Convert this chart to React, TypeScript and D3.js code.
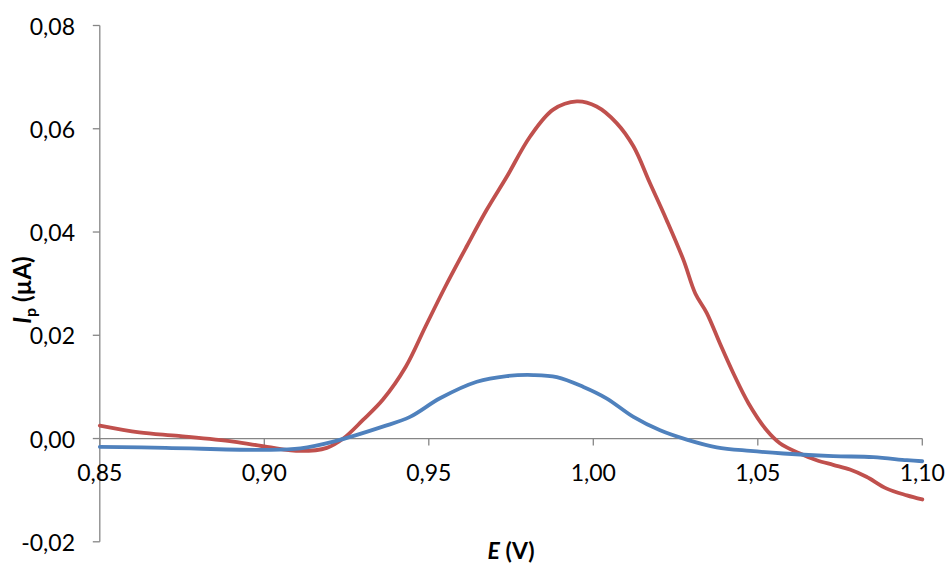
import React from "react";
import * as d3 from "d3";

// Differential pulse voltammograms: potential E (V) vs. peak current Ip (µA)
const redPotential = [0.85, 0.862, 0.874, 0.8906, 0.9008, 0.911, 0.919, 0.924, 0.93, 0.936, 0.943, 0.949, 0.955, 0.9615, 0.9676, 0.9737, 0.9808, 0.9878, 0.995, 1.001, 1.0071, 1.0122, 1.0172, 1.0223, 1.0274, 1.031, 1.0345, 1.0385, 1.0426, 1.0472, 1.0527, 1.0567, 1.0628, 1.0679, 1.0729, 1.078, 1.083, 1.0892, 1.0953, 1.1];
const redCurrent = [0.0025, 0.0012, 0.0005, -0.0006, -0.0016, -0.0024, -0.0018, 0.0, 0.0036, 0.0075, 0.0139, 0.0217, 0.0294, 0.0372, 0.0443, 0.0507, 0.0585, 0.0637, 0.0653, 0.0643, 0.0611, 0.0566, 0.0495, 0.0423, 0.0346, 0.0281, 0.0243, 0.0184, 0.0126, 0.0068, 0.0016, -0.0009, -0.0029, -0.0042, -0.0051, -0.006, -0.0074, -0.0097, -0.011, -0.0118];

const bluePotential = [0.85, 0.87, 0.901, 0.911, 0.921, 0.936, 0.9443, 0.9534, 0.9646, 0.9737, 0.9818, 0.9889, 0.997, 1.004, 1.0122, 1.0203, 1.0284, 1.0375, 1.0477, 1.0578, 1.0729, 1.0851, 1.0953, 1.1];
const blueCurrent = [-0.0016, -0.0018, -0.0022, -0.0019, -0.0006, 0.0023, 0.0042, 0.0078, 0.011, 0.0121, 0.0123, 0.0119, 0.01, 0.0078, 0.0042, 0.0016, -0.0002, -0.0017, -0.0024, -0.0029, -0.0034, -0.0036, -0.0042, -0.0044];

const xTicks = [0.85, 0.9, 0.95, 1.0, 1.05, 1.1];
const yTicks = [-0.02, 0, 0.02, 0.04, 0.06, 0.08];

const series = [
  { name: "red", color: "#C0504D", x: redPotential, y: redCurrent },
  { name: "blue", color: "#4F81BD", x: bluePotential, y: blueCurrent },
];

const W = 948;
const H = 564;
const FONT = "Lato, 'Open Sans', 'Liberation Sans', sans-serif";
const AXIS = "#868686";

const fmt = (v: number) => v.toFixed(2).replace(".", ",");

export default function App() {
  const x = d3.scaleLinear().domain([0.85, 1.1]).range([99.8, 922.3]);
  const y = d3.scaleLinear().domain([-0.02, 0.08]).range([541.8, 25.5]);

  const line = d3
    .line<[number, number]>()
    .x((d) => x(d[0]))
    .y((d) => y(d[1]))
    .curve(d3.curveCatmullRom.alpha(0.5));

  const y0 = y(0);

  return (
    <div style={{ position: "fixed", left: 0, top: 0 }}>
      <svg width={W} height={H} style={{ display: "block", background: "#fff" }}>
        {/* vertical axis */}
        <line x1={x(0.85)} x2={x(0.85)} y1={y(0.08)} y2={y(-0.02)} stroke={AXIS} strokeWidth={1.3} />
        {yTicks.map((t) => (
          <g key={"y" + t}>
            <line x1={x(0.85) - 7} x2={x(0.85)} y1={y(t)} y2={y(t)} stroke={AXIS} strokeWidth={1.3} />
            <text
              x={75}
              y={y(t)}
              textAnchor="end"
              dominantBaseline="central"
              fontFamily={FONT}
              fontSize={23}
              fill="#000"
            >
              {fmt(t)}
            </text>
          </g>
        ))}

        {/* horizontal axis at zero */}
        <line x1={x(0.85)} x2={x(1.1)} y1={y0} y2={y0} stroke={AXIS} strokeWidth={1.3} />
        {xTicks.map((t) => (
          <g key={"x" + t}>
            <line x1={x(t)} x2={x(t)} y1={y0} y2={y0 + 7} stroke={AXIS} strokeWidth={1.3} />
            <text
              x={x(t)}
              y={481}
              textAnchor="middle"
              fontFamily={FONT}
              fontSize={23}
              fill="#000"
            >
              {fmt(t)}
            </text>
          </g>
        ))}

        {/* data */}
        {series.map((s) => (
          <path
            key={s.name}
            d={line(s.x.map((v, i) => [v, s.y[i]] as [number, number])) || ""}
            fill="none"
            stroke={s.color}
            strokeWidth={3.8}
            strokeLinejoin="round"
            strokeLinecap="round"
          />
        ))}

        {/* axis titles */}
        <text x={511} y={559} textAnchor="middle" fontFamily={FONT} fontSize={23} fontWeight="bold" fill="#000">
          <tspan fontStyle="italic">E</tspan> (V)
        </text>
        <text
          transform="translate(31,290) rotate(-90)"
          textAnchor="middle"
          fontFamily={FONT}
          fontSize={24}
          fontWeight="bold"
          fill="#000"
        >
          <tspan fontStyle="italic">I</tspan>
          <tspan fontSize={16} dy={5}>p</tspan>
          <tspan dy={-5}> (µA)</tspan>
        </text>
      </svg>
    </div>
  );
}
